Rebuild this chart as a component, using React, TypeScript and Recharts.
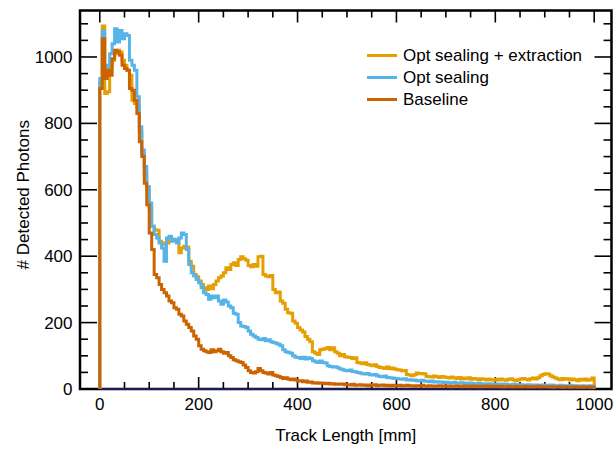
import React from 'react';
import {
  ComposedChart,
  Line,
  XAxis,
  YAxis,
  ReferenceArea,
  ReferenceLine,
  Legend,
} from 'recharts';

// Histogram binning (mm)
const BIN_WIDTH = 5;

const X_DOMAIN: [number, number] = [-40, 1035];
const Y_DOMAIN: [number, number] = [0, 1140];

const X_TICKS = [0, 50, 100, 150, 200, 250, 300, 350, 400, 450, 500, 550, 600, 650, 700, 750, 800, 850, 900, 950, 1000];
const X_TICK_LABELS = [0, 200, 400, 600, 800, 1000];
const Y_TICKS = [0, 50, 100, 150, 200, 250, 300, 350, 400, 450, 500, 550, 600, 650, 700, 750, 800, 850, 900, 950, 1000, 1050, 1100];
const Y_TICK_LABELS = [0, 200, 400, 600, 800, 1000];

const SERIES_NAMES = ['Opt sealing + extraction', 'Opt sealing', 'Baseline'];
const SERIES_COLORS = ['#E69F00', '#56B4E9', '#CB6300'];

// Counts per 5 mm bin, 0–1000 mm
const extractionCounts = [
  920, 1093, 890, 895, 975, 990, 1010, 1020, 1015, 990, 975, 960, 945, 870, 860, 850, 775, 710, 650, 600,
  545, 490, 480, 478, 445, 440, 435, 440, 455, 452, 450, 448, 410, 425, 430, 428, 385, 370, 345, 338,
  325, 315, 305, 300, 310, 302, 315, 325, 335, 340, 350, 365, 360, 375, 380, 372, 390, 398, 392, 388,
  372, 368, 375, 370, 398, 400, 345, 340, 338, 342, 300, 290, 292, 265, 258, 240, 230, 228, 205, 198,
  185, 178, 172, 158, 150, 142, 112, 108, 104, 118, 120, 122, 125, 118, 124, 112, 108, 100, 104, 97,
  96, 95, 92, 94, 80, 78, 76, 79, 74, 72, 70, 73, 68, 65, 64, 62, 66, 61, 63, 60,
  58, 57, 55, 56, 44, 42, 40, 43, 48, 46, 47, 45, 38, 37, 36, 39, 37, 35, 38, 36,
  35, 33, 36, 34, 32, 35, 30, 33, 31, 34, 29, 32, 30, 28, 31, 29, 27, 30, 28, 26,
  29, 27, 30, 28, 26, 29, 31, 27, 25, 28, 30, 32, 29, 27, 31, 33, 30, 34, 40, 44,
  46, 45, 40, 36, 33, 30, 28, 32, 29, 31, 27, 30, 28, 25, 29, 27, 30, 26, 28, 33,
];

const sealingCounts = [
  935, 1078, 960, 975, 1010, 1040, 1085, 1045, 1080, 1055, 1070, 1065, 990, 975, 960, 880, 790, 720, 670, 610,
  560, 490, 465, 455, 440, 425, 385, 455, 460, 445, 450, 440, 455, 470, 465, 420, 375, 350, 340, 330,
  320, 305, 290, 285, 270, 280, 275, 280, 265, 255, 268, 262, 250, 245, 228, 225, 200, 190, 188, 185,
  175, 165, 160, 155, 150, 148, 152, 145, 148, 142, 140, 138, 135, 130, 118, 112, 110, 108, 100, 96,
  95, 92, 96, 90, 94, 92, 85, 82, 80, 84, 80, 78, 70, 68, 66, 67, 64, 60, 58, 56,
  55, 57, 53, 52, 50, 48, 46, 45, 47, 43, 42, 44, 40, 38, 37, 39, 35, 34, 33, 32,
  31, 30, 29, 31, 27, 28, 26, 27, 25, 24, 26, 24, 23, 22, 24, 21, 22, 20, 21, 19,
  20, 19, 18, 20, 17, 18, 19, 17, 16, 18, 17, 16, 15, 17, 16, 15, 14, 16, 15, 14,
  15, 14, 13, 15, 14, 13, 12, 14, 13, 12, 13, 12, 11, 13, 12, 11, 12, 10, 11, 12,
  11, 10, 12, 11, 10, 9, 11, 10, 9, 10, 11, 9, 10, 8, 9, 10, 8, 9, 10, 9,
];

const baselineCounts = [
  905, 1055, 935, 960, 945, 995, 1020, 1015, 1005, 975, 965, 960, 905, 900, 870, 830, 745, 700, 620, 555,
  470, 420, 345, 335, 315, 300, 290, 280, 265, 260, 245, 240, 225, 220, 205, 195, 185, 175, 160, 150,
  130, 120, 115, 112, 110, 118, 112, 115, 120, 112, 108, 110, 100, 95, 88, 85, 82, 80, 72, 65,
  55, 50, 48, 52, 62, 55, 50, 48, 45, 50, 42, 40, 38, 35, 32, 34, 30, 28, 30, 27,
  24, 25, 22, 24, 20, 21, 18, 19, 17, 18, 17, 16, 17, 15, 16, 14, 15, 14, 15, 13,
  13, 12, 14, 11, 12, 13, 11, 12, 10, 12, 11, 13, 10, 11, 12, 10, 11, 9, 11, 10,
  10, 11, 9, 10, 11, 9, 10, 8, 10, 9, 11, 9, 8, 10, 9, 8, 9, 10, 8, 9,
  8, 9, 7, 8, 9, 8, 7, 9, 8, 7, 8, 9, 7, 8, 7, 8, 9, 7, 8, 7,
  8, 7, 8, 6, 7, 8, 7, 6, 8, 7, 6, 7, 8, 6, 7, 6, 7, 8, 6, 7,
  7, 6, 7, 5, 6, 7, 6, 5, 7, 6, 5, 6, 7, 5, 6, 5, 6, 7, 5, 6,
];

const FONT = '"Liberation Sans", Arial, Helvetica, sans-serif';

// Turn bin counts into a closed step outline starting and ending at zero
function toSteps(counts: number[]) {
  const pts: { x: number; y: number }[] = [{ x: 0, y: 0 }];
  counts.forEach((c, i) => pts.push({ x: i * BIN_WIDTH, y: c }));
  const end = counts.length * BIN_WIDTH;
  pts.push({ x: end, y: counts[counts.length - 1] });
  pts.push({ x: end, y: 0 });
  return pts;
}

const seriesData = [extractionCounts, sealingCounts, baselineCounts].map(toSteps);

const TICK_STROKE = 1.6;

// Inward tick marks on bottom and top edges for a vertical reference line
const makeXTickShape = (major: boolean) => (p: any) => {
  const bottom = Math.max(p.y1, p.y2);
  const top = Math.min(p.y1, p.y2);
  const len = major ? 12 : 7;
  return (
    <g>
      <line x1={p.x1} x2={p.x1} y1={bottom} y2={bottom - len} stroke="#000" strokeWidth={TICK_STROKE} />
      <line x1={p.x1} x2={p.x1} y1={top} y2={top + len} stroke="#000" strokeWidth={TICK_STROKE} />
    </g>
  );
};

// Inward tick marks on left and right edges for a horizontal reference line
const makeYTickShape = (major: boolean) => (p: any) => {
  const left = Math.min(p.x1, p.x2);
  const right = Math.max(p.x1, p.x2);
  const len = major ? 17 : 8;
  return (
    <g>
      <line x1={left} x2={left + len} y1={p.y1} y2={p.y1} stroke="#000" strokeWidth={TICK_STROKE} />
      <line x1={right} x2={right - len} y1={p.y1} y2={p.y1} stroke="#000" strokeWidth={TICK_STROKE} />
    </g>
  );
};

const BottomLabel = (props: any) => {
  const { x, y, payload } = props;
  if (!X_TICK_LABELS.includes(payload.value)) return <g />;
  return (
    <text x={x} y={y + 20.5} textAnchor="middle" fontSize={17} fontFamily={FONT} fill="#000">
      {payload.value}
    </text>
  );
};

const LeftLabel = (props: any) => {
  const { x, y, payload } = props;
  if (!Y_TICK_LABELS.includes(payload.value)) return <g />;
  return (
    <text x={x - 7.5} y={y + 6} textAnchor="end" fontSize={17} fontFamily={FONT} fill="#000">
      {payload.value}
    </text>
  );
};

const XTitle = (props: any) => {
  const vb = props.viewBox || {};
  return (
    <text x={vb.x + vb.width / 2} y={vb.y + 52} textAnchor="middle" fontSize={17} fontFamily={FONT} fill="#000">
      Track Length [mm]
    </text>
  );
};

const YTitle = (props: any) => {
  const vb = props.viewBox || {};
  const cx = vb.x + 29;
  const cy = vb.y + vb.height / 2 - 5;
  return (
    <text
      x={cx}
      y={cy}
      transform={`rotate(-90 ${cx} ${cy})`}
      textAnchor="middle"
      fontSize={17}
      fontFamily={FONT}
      fill="#000"
    >
      # Detected Photons
    </text>
  );
};

const LegendBox = () => (
  <div style={{ fontFamily: FONT, fontSize: 17, color: '#000' }}>
    {SERIES_NAMES.map((name, i) => (
      <div key={name} style={{ display: 'flex', alignItems: 'center', height: 22 }}>
        <div style={{ width: 30, height: 3, background: SERIES_COLORS[i], marginRight: 6 }} />
        <span style={{ lineHeight: '22px', whiteSpace: 'nowrap' }}>{name}</span>
      </div>
    ))}
  </div>
);

export default function App() {
  return (
    <div style={{ position: 'absolute', left: 0, top: 0, background: '#fff' }}>
      <ComposedChart width={615} height={449} margin={{ top: 10.5, right: 3.5, bottom: 0, left: 0 }}>
        <XAxis
          dataKey="x"
          type="number"
          orientation="bottom"
          domain={X_DOMAIN}
          allowDataOverflow
          ticks={X_TICKS}
          interval={0}
          height={60}
          tickSize={0}
          tickMargin={0}
          axisLine={false}
          tickLine={false}
          tick={<BottomLabel />}
          label={<XTitle />}
        />
        <YAxis
          type="number"
          orientation="left"
          domain={Y_DOMAIN}
          allowDataOverflow
          ticks={Y_TICKS}
          interval={0}
          width={80}
          tickSize={0}
          tickMargin={0}
          axisLine={false}
          tickLine={false}
          tick={<LeftLabel />}
          label={<YTitle />}
        />
        {X_TICKS.map((v) => (
          <ReferenceLine key={`xt${v}`} x={v} stroke="none" shape={makeXTickShape(X_TICK_LABELS.includes(v))} />
        ))}
        {Y_TICKS.map((v) => (
          <ReferenceLine key={`yt${v}`} y={v} stroke="none" shape={makeYTickShape(Y_TICK_LABELS.includes(v))} />
        ))}
        <ReferenceArea
          x1={X_DOMAIN[0]}
          x2={X_DOMAIN[1]}
          y1={Y_DOMAIN[0]}
          y2={Y_DOMAIN[1]}
          fill="none"
          fillOpacity={0}
          stroke="#000"
          strokeWidth={2.5}
        />
        <ReferenceLine
          segment={[{ x: 0, y: 0 }, { x: 1000, y: 0 }]}
          stroke="#1b1b5a"
          strokeWidth={2}
        />
        {seriesData.map((data, i) => (
          <Line
            key={SERIES_NAMES[i]}
            data={data}
            dataKey="y"
            name={SERIES_NAMES[i]}
            type="stepAfter"
            stroke={SERIES_COLORS[i]}
            strokeWidth={3}
            dot={false}
            activeDot={false}
            isAnimationActive={false}
          />
        ))}
        <Legend
          layout="horizontal"
          verticalAlign="middle"
          align="center"
          content={() => <LegendBox />}
          wrapperStyle={{ left: 367, top: 44.5, width: 240, height: 66 }}
        />
      </ComposedChart>
    </div>
  );
}
